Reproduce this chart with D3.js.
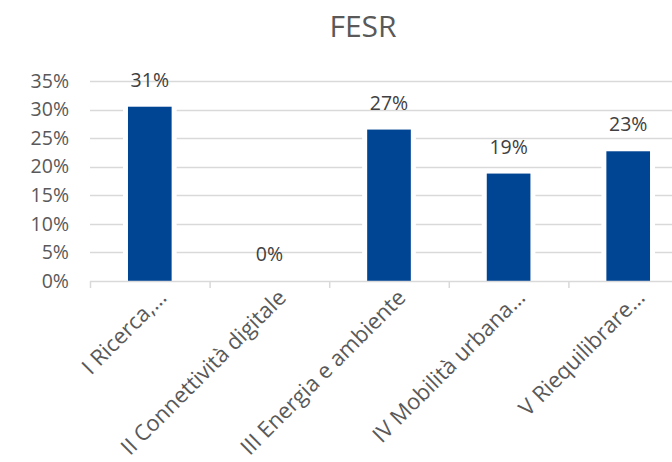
<!DOCTYPE html>
<html>
<head>
<meta charset="utf-8">
<script src="https://cdn.jsdelivr.net/npm/d3@7"></script>
<style>
  body { margin: 0; background: #fff; }
  svg { display: block; font-family: "Open Sans", sans-serif; }
</style>
</head>
<body>
<div id="chart"></div>
<script>
// data
var categories = ['I Ricerca,…', 'II Connettività digitale', 'III Energia e ambiente', 'IV Mobilità urbana…', 'V Riequilibrare…'];
var values = [0.305, 0, 0.265, 0.188, 0.227];
var labels = ['31%', '0%', '27%', '19%', '23%'];
var yTicks = [0, 0.05, 0.10, 0.15, 0.20, 0.25, 0.30, 0.35];

var width = 672, height = 462;
var margin = { top: 81, left: 90, bottom: 182 };
var plotRight = 688; // the plot runs past the right edge in the original

var svg = d3.select('#chart').append('svg')
  .attr('width', width)
  .attr('height', height);

var x = d3.scaleBand()
  .domain(categories)
  .range([margin.left, plotRight])
  .paddingInner(0.635)
  .paddingOuter(0.3175);

var y = d3.scaleLinear()
  .domain([0, 0.35])
  .range([height - margin.bottom + 1, margin.top]);

// title
svg.append('text')
  .attr('x', 363)
  .attr('y', 37)
  .attr('text-anchor', 'middle')
  .attr('fill', '#595959')
  .style('font-size', '30px')
  .text('FESR');

// gridlines
svg.append('g')
  .selectAll('line')
  .data(yTicks.slice(1))
  .enter().append('line')
  .attr('x1', margin.left)
  .attr('x2', plotRight)
  .attr('y1', function (d) { return Math.round(y(d)) + 0.5; })
  .attr('y2', function (d) { return Math.round(y(d)) + 0.5; })
  .attr('stroke', '#d9d9d9')
  .attr('stroke-width', 1.5);

// y axis labels
var yAxis = d3.axisLeft(y)
  .tickValues(yTicks)
  .tickFormat(d3.format('.0%'))
  .tickSize(0)
  .tickPadding(0);

svg.append('g')
  .attr('transform', 'translate(69,0)')
  .call(yAxis)
  .call(function (g) { g.select('.domain').remove(); })
  .selectAll('text')
  .attr('fill', '#595959')
  .style('font-size', '19.5px')
  .style('font-family', '"Open Sans", sans-serif');

// white gap around bars, gridlines break there
svg.append('g')
  .selectAll('rect')
  .data(values)
  .enter().append('rect')
  .attr('x', function (d, i) { return x(categories[i]) - 5; })
  .attr('width', x.bandwidth() + 10)
  .attr('y', function (d) { return y(d); })
  .attr('height', function (d) { return Math.max(0, y(0) - y(d) - 1); })
  .attr('fill', '#fff');

// bars
svg.append('g')
  .selectAll('rect')
  .data(values)
  .enter().append('rect')
  .attr('x', function (d, i) { return x(categories[i]); })
  .attr('width', x.bandwidth())
  .attr('y', function (d) { return y(d); })
  .attr('height', function (d) { return y(0) - y(d); })
  .attr('fill', '#004494');

// value labels
svg.append('g')
  .selectAll('text')
  .data(values)
  .enter().append('text')
  .attr('x', function (d, i) { return x(categories[i]) + x.bandwidth() / 2; })
  .attr('y', function (d) { return y(d) - 20; })
  .attr('text-anchor', 'middle')
  .attr('fill', '#404040')
  .style('font-size', '19.5px')
  .text(function (d, i) { return labels[i]; });

// x axis
var step = x.step();
var base = y(0);
var xg = svg.append('g');
xg.append('line')
  .attr('x1', margin.left).attr('x2', plotRight)
  .attr('y1', base + 0.5).attr('y2', base + 0.5)
  .attr('stroke', '#d9d9d9').attr('stroke-width', 1.5);

xg.selectAll('.tick')
  .data(categories)
  .enter().append('line')
  .attr('x1', function (d, i) { return margin.left + i * step + 0.5; })
  .attr('x2', function (d, i) { return margin.left + i * step + 0.5; })
  .attr('y1', base)
  .attr('y2', base + 7)
  .attr('stroke', '#d9d9d9').attr('stroke-width', 1.5);

xg.selectAll('text')
  .data(categories)
  .enter().append('text')
  .attr('transform', function (d) {
    var cx = x(d) + x.bandwidth() / 2 + 18;
    return 'translate(' + cx + ',' + (base + 18) + ') rotate(-45)';
  })
  .attr('text-anchor', 'end')
  .attr('fill', '#595959')
  .style('font-size', '22px')
  .text(function (d) { return d; });
</script>
</body>
</html>
